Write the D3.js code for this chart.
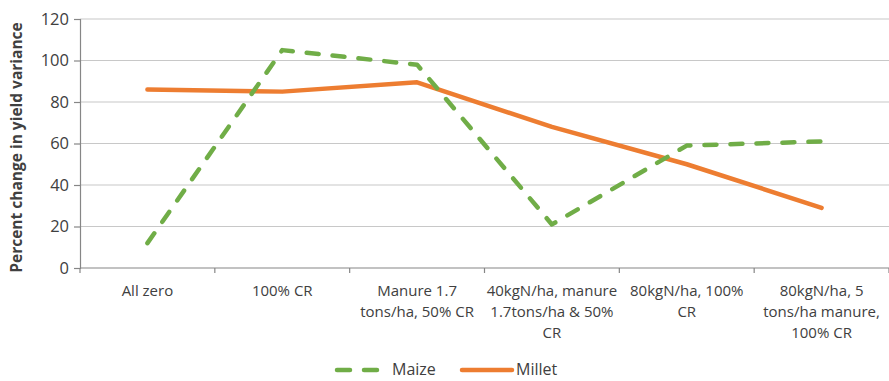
<!DOCTYPE html>
<html>
<head>
<meta charset="utf-8">
<script src="https://cdn.jsdelivr.net/npm/d3@7/dist/d3.min.js"></script>
<style>
  html, body { margin: 0; padding: 0; background: #fff; }
  svg { display: block; }
  text { font-family: "Open Sans", "Liberation Sans", sans-serif; fill: #404040; }
</style>
</head>
<body>
<svg id="chart" width="889" height="381"></svg>
<script>
// Treatment scenarios (line breaks mark where each label wraps)
const categories = [
  "All zero",
  "100% CR",
  "Manure 1.7\ntons/ha, 50% CR",
  "40kgN/ha, manure\n1.7tons/ha & 50%\nCR",
  "80kgN/ha, 100%\nCR",
  "80kgN/ha, 5\ntons/ha manure,\n100% CR"
];
// Percent change in yield variance per crop
const maize  = [12, 105, 98, 21, 59, 61];
const millet = [86, 85, 89.5, 68, 50, 29];
const yTicks = [0, 20, 40, 60, 80, 100, 120];
const seriesNames = ["Maize", "Millet"];

const svg = d3.select("#chart");
const margin = { left: 80, right: 0, top: 19, bottom: 113 };
const W = 889, H = 381;
const plotW = W - margin.left - margin.right;
const plotH = H - margin.top - margin.bottom;

const x = d3.scaleBand().domain(categories).range([margin.left, margin.left + plotW]);
const y = d3.scaleLinear().domain([0, 120]).range([margin.top + plotH, margin.top]);

// horizontal gridlines
svg.append("g")
  .selectAll("line")
  .data(yTicks.filter(t => t > 0))
  .join("line")
  .attr("x1", margin.left).attr("x2", margin.left + plotW)
  .attr("y1", d => y(d)).attr("y2", d => y(d))
  .attr("stroke", "#c8c8c8").attr("stroke-width", 1.2);

// y axis
const yAxis = svg.append("g")
  .attr("transform", `translate(${margin.left},0)`)
  .call(d3.axisLeft(y).tickValues(yTicks).tickSize(6).tickPadding(5));
yAxis.select(".domain").attr("stroke", "#868686").attr("stroke-width", 1.2);
yAxis.selectAll(".tick line").attr("stroke", "#868686").attr("stroke-width", 1.2);
yAxis.selectAll(".tick text")
  .attr("font-size", 16.5)
  .attr("fill", "#404040")
  .style("font-family", "'Open Sans', sans-serif");

// x axis: ticks at category boundaries
const xAxisG = svg.append("g");
xAxisG.append("line")
  .attr("x1", margin.left).attr("x2", margin.left + plotW)
  .attr("y1", y(0)).attr("y2", y(0))
  .attr("stroke", "#868686").attr("stroke-width", 1.2);
const bounds = categories.map(c => x(c)).concat([x(categories[categories.length - 1]) + x.bandwidth()]);
xAxisG.selectAll("line.tk")
  .data(bounds)
  .join("line")
  .attr("class", "tk")
  .attr("x1", d => d).attr("x2", d => d)
  .attr("y1", y(0)).attr("y2", y(0) + 5)
  .attr("stroke", "#868686").attr("stroke-width", 1.2);

const lbl = xAxisG.selectAll("text.cat")
  .data(categories)
  .join("text")
  .attr("class", "cat")
  .attr("text-anchor", "middle")
  .attr("font-size", 15)
  .attr("x", d => x(d) + x.bandwidth() / 2)
  .attr("y", y(0) + 28);
lbl.selectAll("tspan")
  .data(d => d.split("\n").map(s => ({ s, c: d })))
  .join("tspan")
  .attr("x", d => x(d.c) + x.bandwidth() / 2)
  .attr("dy", (d, i) => i === 0 ? 0 : 21)
  .text(d => d.s);

// y axis title
svg.append("text")
  .attr("transform", `translate(22,${margin.top + plotH / 2 + 4}) rotate(-90)`)
  .attr("text-anchor", "middle")
  .attr("font-size", 15.5)
  .attr("font-weight", "bold")
  .attr("fill", "#000")
  .text("Percent change in yield variance");

// series lines
const line = d3.line()
  .x((d, i) => x(categories[i]) + x.bandwidth() / 2)
  .y(d => y(d));

svg.append("path")
  .datum(millet)
  .attr("fill", "none")
  .attr("stroke", "#ED7D31")
  .attr("stroke-width", 4.5)
  .attr("stroke-linejoin", "round")
  .attr("stroke-linecap", "round")
  .attr("d", line);

svg.append("path")
  .datum(maize)
  .attr("fill", "none")
  .attr("stroke", "#70AD47")
  .attr("stroke-width", 4.5)
  .attr("stroke-linejoin", "round")
  .attr("stroke-linecap", "round")
  .attr("stroke-dasharray", "12,14")
  .attr("d", line);

// legend
const lg = svg.append("g");
const ly = 370;
lg.append("line")
  .attr("x1", 337).attr("x2", 378).attr("y1", ly).attr("y2", ly)
  .attr("stroke", "#70AD47").attr("stroke-width", 4.5)
  .attr("stroke-linecap", "round").attr("stroke-dasharray", "13,14");
lg.append("text")
  .attr("x", 392).attr("y", ly + 5)
  .attr("font-size", 16)
  .text(seriesNames[0]);
lg.append("line")
  .attr("x1", 462).attr("x2", 512).attr("y1", ly).attr("y2", ly)
  .attr("stroke", "#ED7D31").attr("stroke-width", 4.5)
  .attr("stroke-linecap", "round");
lg.append("text")
  .attr("x", 516).attr("y", ly + 5)
  .attr("font-size", 16)
  .text(seriesNames[1]);
</script>
</body>
</html>
